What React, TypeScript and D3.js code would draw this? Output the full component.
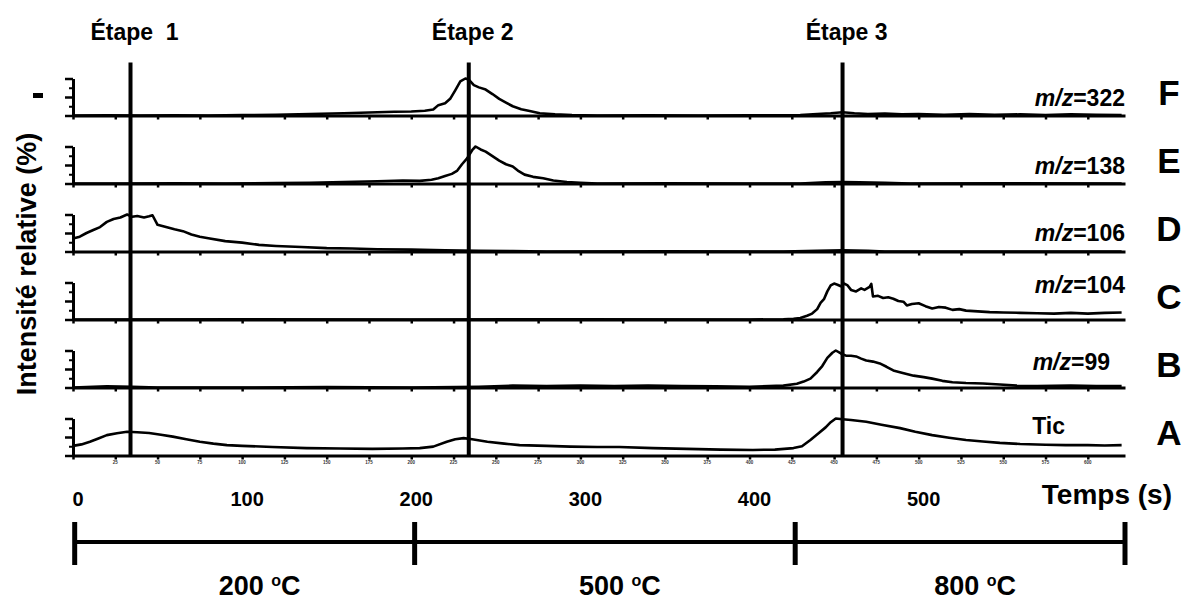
import React, { useRef, useEffect } from 'react';
import * as d3 from 'd3';

const WIDTH = 1188;
const HEIGHT = 601;
const FONT = '"Liberation Sans", Arial, Helvetica, sans-serif';

// panneaux du haut vers le bas
const panelIds = ['F', 'E', 'D', 'C', 'B', 'A'];
const panelNames = ['322', '138', '106', '104', '99', 'Tic'];

// étapes (temps en s)
const stageLabels = ['Étape  1', 'Étape 2', 'Étape 3'];
const stageTimes = [34, 234, 455];

// axe des temps
const timeLabels = [0, 100, 200, 300, 400, 500];
const minorTicks = [0, 25, 50, 75, 100, 125, 150, 175, 200, 225, 250, 275, 300, 325, 350, 375, 400, 425, 450, 475, 500, 525, 550, 575, 600];

// paliers de température
const tempLabels = ['200', '500', '800'];
const tempBounds = [1, 202, 427, 622];

// signaux [temps (s), intensité relative (%)]
const signalF: [number, number][] = [
  [0, 0], [20, 0.5], [40, 0], [60, 0.5], [80, 0], [100, 1], [120, 2], [140, 4], [160, 6], [175, 8],
  [190, 10], [200, 11], [208, 13], [213, 16], [216, 28], [220, 33], [223, 45], [226, 68], [229, 92],
  [232, 100], [234, 97], [237, 82], [240, 76], [244, 70], [248, 58], [252, 45], [256, 35], [260, 25],
  [265, 17], [270, 12], [276, 6], [285, 3], [295, 1], [310, 0], [340, 0.5], [370, 0], [400, 0.5],
  [430, 1], [440, 4], [448, 6], [455, 9], [462, 6], [470, 4], [480, 5], [490, 3], [500, 4], [515, 2],
  [530, 4], [545, 2], [560, 3], [575, 1], [590, 3], [605, 2], [620, 1],
];

const signalE: [number, number][] = [
  [0, 0], [30, 0], [60, 0.5], [90, 0], [120, 1], [140, 2], [160, 4], [180, 6], [195, 8], [205, 7],
  [212, 10], [216, 14], [220, 20], [224, 26], [227, 34], [230, 52], [233, 68], [236, 90], [238, 100],
  [241, 92], [244, 86], [248, 74], [252, 62], [256, 52], [260, 46], [263, 35], [267, 24], [272, 18],
  [278, 14], [284, 8], [292, 4], [300, 2], [310, 0], [350, 0.5], [400, 0], [430, 0], [445, 3],
  [455, 4], [465, 3], [480, 2], [495, 0], [550, 0.5], [620, 0],
];

const signalD: [number, number][] = [
  [0, 35], [4, 40], [8, 50], [12, 58], [16, 66], [20, 80], [24, 88], [28, 92], [32, 100], [35, 94],
  [38, 96], [42, 92], [45, 95], [47, 98], [50, 72], [55, 66], [60, 60], [65, 55], [70, 46], [75, 40],
  [80, 36], [90, 28], [100, 24], [110, 18], [120, 15], [135, 12], [150, 9], [165, 8], [180, 6],
  [200, 5], [220, 3], [240, 2], [260, 1], [280, 0], [350, 0.5], [420, 0], [440, 2], [455, 3],
  [470, 2], [480, 0], [550, 0], [620, 0],
];

const signalC: [number, number][] = [
  [0, 0], [100, 0.5], [200, 0], [300, 0.5], [400, 0], [420, 0.5], [426, 2], [430, 4], [434, 10],
  [437, 16], [440, 28], [442, 45], [444, 55], [446, 76], [448, 92], [450, 97], [452, 94], [454, 90],
  [456, 97], [458, 92], [460, 80], [463, 76], [466, 84], [468, 80], [471, 88], [472, 96], [473, 62],
  [476, 64], [479, 58], [482, 60], [485, 56], [488, 50], [491, 48], [493, 38], [496, 42], [500, 44],
  [504, 36], [508, 30], [512, 34], [516, 32], [520, 26], [524, 28], [528, 24], [535, 22], [542, 20],
  [550, 19], [560, 18], [570, 17], [580, 16], [590, 18], [600, 16], [610, 18], [620, 19],
];

const signalB: [number, number][] = [
  [0, 0], [20, 3], [35, 2], [50, 0], [100, 0], [150, 1], [200, 0], [240, 2], [260, 5], [280, 4],
  [300, 5], [320, 4], [340, 5], [360, 4], [380, 3], [400, 2], [420, 5], [428, 10], [432, 16],
  [436, 24], [440, 42], [443, 58], [446, 80], [449, 94], [451, 100], [454, 92], [457, 86], [460, 86],
  [463, 84], [466, 78], [469, 73], [473, 70], [477, 65], [481, 56], [485, 46], [490, 40], [497, 32],
  [503, 28], [508, 24], [514, 18], [520, 14], [528, 12], [538, 11], [548, 8], [558, 5], [570, 4],
  [590, 5], [605, 4], [620, 4],
];

const signalA: [number, number][] = [
  [0, 26], [5, 30], [10, 37], [15, 46], [20, 55], [26, 60], [32, 64], [38, 63], [45, 61], [52, 56],
  [59, 51], [67, 44], [75, 37], [83, 32], [91, 28], [100, 26], [118, 23], [138, 20], [158, 19],
  [177, 18], [195, 19], [205, 20], [213, 24], [221, 37], [226, 44], [231, 47], [236, 44], [245, 37],
  [255, 32], [264, 28], [280, 26], [294, 24], [310, 23], [323, 23], [343, 20], [363, 18], [383, 16],
  [402, 15], [415, 16], [426, 20], [431, 25], [436, 42], [441, 61], [445, 76], [448, 90], [451, 100],
  [455, 98], [460, 96], [469, 91], [478, 83], [489, 74], [498, 64], [508, 55], [518, 48], [528, 42],
  [538, 38], [548, 34], [560, 31], [575, 29], [587, 28], [600, 28], [610, 27], [620, 28],
];

const signals = [signalF, signalE, signalD, signalC, signalB, signalA];

// mise en page des étiquettes de chaque panneau (décalage par rapport à la ligne de base)
const nameLayout = [
  { x: 1125, dy: -10 },
  { x: 1125, dy: -10 },
  { x: 1125, dy: -11 },
  { x: 1125, dy: -27 },
  { x: 1110, dy: -18 },
  { x: 1065, dy: -22 },
];

export default function App() {
  const svgRef = useRef<SVGSVGElement>(null);

  useEffect(() => {
    if (!svgRef.current) return;
    const svg = d3.select(svgRef.current);
    svg.selectAll('*').remove();

    const panelHeight = 37;
    const x = d3.scaleLinear().domain([0, 622]).range([73, 1125]);
    const base = d3.scalePoint<string>().domain(panelIds).range([115.5, 455.5]);

    const g = svg.append('g').attr('font-family', FONT).attr('font-weight', 'bold');

    panelIds.forEach((id, i) => {
      const b = base(id)!;
      const y = d3.scaleLinear().domain([0, 100]).range([b, b - panelHeight]);
      const pg = g.append('g');

      // signal
      const line = d3.line<[number, number]>()
        .x(d => x(d[0]))
        .y(d => y(d[1]));
      pg.append('path')
        .datum(signals[i])
        .attr('fill', 'none')
        .attr('stroke', '#000')
        .attr('stroke-width', 2.6)
        .attr('stroke-linejoin', 'round')
        .attr('d', line);

      // axe des y
      const yAxis = pg.append('g')
        .attr('transform', `translate(${x(0)},0)`)
        .call(d3.axisLeft(y).tickValues([0, 50, 100]).tickSize(8).tickSizeOuter(0).tickFormat(() => ''));
      yAxis.select('.domain').attr('stroke-width', 3);
      yAxis.selectAll('.tick line').attr('stroke-width', 2.5);
      const yMinor = pg.append('g')
        .attr('transform', `translate(${x(0)},0)`)
        .call(d3.axisLeft(y).tickValues([25, 75]).tickSize(4).tickSizeOuter(0).tickFormat(() => ''));
      yMinor.select('.domain').remove();
      yMinor.selectAll('.tick line').attr('stroke-width', 2);

      // axe des temps
      const xAxis = pg.append('g')
        .attr('transform', `translate(0,${b})`)
        .call(d3.axisBottom(x).tickValues(minorTicks).tickSize(4).tickSizeOuter(0).tickFormat(() => ''));
      xAxis.select('.domain').attr('stroke-width', 3);
      xAxis.selectAll('.tick line').attr('stroke-width', 2.5);

      // micro-étiquettes sous le dernier panneau
      if (id === 'A') {
        pg.selectAll('.micro')
          .data(minorTicks.slice(1))
          .enter()
          .append('text')
          .attr('x', d => x(d))
          .attr('y', b + 8)
          .attr('text-anchor', 'middle')
          .attr('font-size', 4.5)
          .attr('fill', '#333')
          .text(d => String(d));
      }

      // étiquette m/z
      const lay = nameLayout[i];
      const label = pg.append('text')
        .attr('x', lay.x)
        .attr('y', b + lay.dy)
        .attr('text-anchor', 'end')
        .attr('font-size', 23);
      if (panelNames[i] === 'Tic') {
        label.text('Tic');
      } else {
        label.append('tspan').attr('font-style', 'italic').text('m/z');
        label.append('tspan').text(`=${panelNames[i]}`);
      }

      // lettre du panneau
      pg.append('text')
        .attr('x', 1169)
        .attr('y', b - 11)
        .attr('text-anchor', 'middle')
        .attr('font-size', 35)
        .text(id);
    });

    // lignes des étapes
    const lineTop = base('F')! - panelHeight - 16;
    const lineBottom = base('A')!;
    stageTimes.forEach((t, i) => {
      g.append('line')
        .attr('x1', x(t)).attr('x2', x(t))
        .attr('y1', lineTop).attr('y2', lineBottom)
        .attr('stroke', '#000')
        .attr('stroke-width', 4);
      g.append('text')
        .attr('x', x(t) + 4)
        .attr('y', lineTop - 23)
        .attr('text-anchor', 'middle')
        .attr('font-size', 23)
        .style('white-space', 'pre')
        .text(stageLabels[i]);
    });

    // étiquettes des temps
    g.selectAll('.tlabel')
      .data(timeLabels)
      .enter()
      .append('text')
      .attr('x', d => x(d) + 5)
      .attr('y', 506)
      .attr('text-anchor', 'middle')
      .attr('font-size', 20)
      .text(d => String(d));

    g.append('text')
      .attr('x', 1172)
      .attr('y', 504)
      .attr('text-anchor', 'end')
      .attr('font-size', 28)
      .text('Temps (s)');

    // paliers de température
    const barY = 542;
    g.append('line')
      .attr('x1', x(tempBounds[0])).attr('x2', x(tempBounds[tempBounds.length - 1]))
      .attr('y1', barY).attr('y2', barY)
      .attr('stroke', '#000').attr('stroke-width', 4);
    g.selectAll('.tb')
      .data(tempBounds)
      .enter()
      .append('line')
      .attr('x1', d => x(d)).attr('x2', d => x(d))
      .attr('y1', barY - 20).attr('y2', barY + 23)
      .attr('stroke', '#000').attr('stroke-width', 5);
    tempLabels.forEach((lab, i) => {
      const mid = (x(tempBounds[i]) + x(tempBounds[i + 1])) / 2 + 15;
      const tx = g.append('text')
        .attr('x', mid)
        .attr('y', 595)
        .attr('text-anchor', 'middle')
        .attr('font-size', 27);
      tx.append('tspan').text(`${lab} `);
      tx.append('tspan').attr('font-size', 16).attr('dy', -9).text('o');
      tx.append('tspan').attr('dy', 9).text('C');
    });

    // titre de l'axe des y
    g.append('text')
      .attr('transform', `translate(36,${264}) rotate(-90)`)
      .attr('text-anchor', 'middle')
      .attr('font-size', 27)
      .text('Intensité relative (%)');
    g.append('rect')
      .attr('x', 33).attr('y', 93)
      .attr('width', 10).attr('height', 5)
      .attr('fill', '#000');
  }, []);

  return (
    <svg
      ref={svgRef}
      width={WIDTH}
      height={HEIGHT}
      viewBox={`0 0 ${WIDTH} ${HEIGHT}`}
      style={{ position: 'absolute', left: 0, top: 0, display: 'block', background: '#fff' }}
    />
  );
}
